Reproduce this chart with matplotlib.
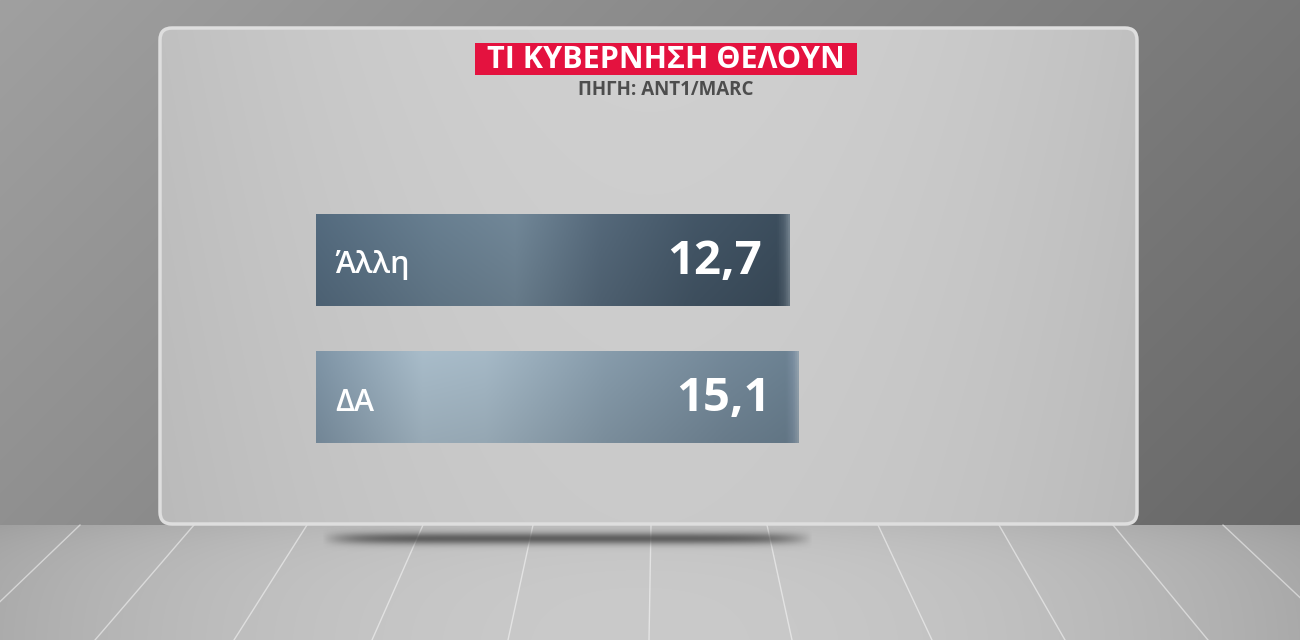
import numpy as np
import matplotlib
matplotlib.use('Agg')
import matplotlib.pyplot as plt
from matplotlib.patches import FancyBboxPatch, Rectangle
from matplotlib.colors import LinearSegmentedColormap

# ---------------- data ----------------
categories = ['Άλλη', 'ΔΑ']
values = [12.7, 15.1]
value_labels = ['12,7', '15,1']
title_text = 'ΤΙ ΚΥΒΕΡΝΗΣΗ ΘΕΛΟΥΝ'
subtitle_text = 'ΠΗΓΗ: ANT1/MARC'

# ---------------- style ----------------
FONT = ['Open Sans', 'Noto Sans', 'DejaVu Sans']
W, H = 1300, 640
BASE = -114.0          # value-axis origin of the bars
FLOOR_Y = 525
floor_lines = [(-10, -160), (80, -40), (194, 95), (307, 234), (423, 372), (533, 508),
               (651, 649), (767, 792), (878, 932), (999, 1065), (1113, 1208),
               (1223, 1345), (1320, 1480)]
bar_stops = [
    [(0.0, '#51677a'), (0.25, '#647a8b'), (0.42, '#6d8292'), (0.6, '#526576'),
     (0.8, '#415363'), (0.975, '#3a4b5a'), (0.99, '#4d5d6b'), (1.0, '#6d7c88')],
    [(0.0, '#7a8fa0'), (0.22, '#a2b5c2'), (0.35, '#9fb2bf'), (0.6, '#8296a5'),
     (0.85, '#6f8393'), (0.975, '#687d8d'), (0.99, '#75889a'), (1.0, '#8d9ca8')],
]

fig = plt.figure(figsize=(13, 6.4), dpi=100)

# ---------------- studio background ----------------
bg = fig.add_axes([0, 0, 1, 1])
bg.set_xlim(0, W)
bg.set_ylim(H, 0)
bg.axis('off')

yy, xx = np.mgrid[0:H, 0:W].astype(float)
wall = 160 - 40 * (xx / W) - 16 * (yy / FLOOR_Y)
floor = 202 - 36 * ((xx - 640) / 700) ** 2 - 12 * np.exp(-(yy - FLOOR_Y) / 25)
img = np.where(yy < FLOOR_Y, wall, floor)
img = np.clip(img, 0, 255) / 255.0
bg.imshow(np.dstack([img, img, img]), extent=(0, W, H, 0), aspect='auto',
          interpolation='bilinear', zorder=0)

for tx, bx in floor_lines:
    bg.plot([tx, bx], [FLOOR_Y, H], color='white', alpha=0.5, lw=1.0, zorder=1)

# panel shadow
sy, sx = np.mgrid[0:40, 0:600].astype(float)
sx_n = (sx - 300) / 300
sy_n = (sy - 20) / 6
alpha = np.exp(-sy_n ** 2) * np.clip((1 - np.abs(sx_n) ** 8), 0, 1) * 0.75
shadow = np.zeros((40, 600, 4))
shadow[..., 3] = alpha
shadow[..., :3] = 0.25
bg.imshow(shadow, extent=(322, 812, 558, 518), aspect='auto', zorder=1)

# glass panel
px0, py0, pw, ph = 160, 28, 977, 496
panel = FancyBboxPatch((px0, py0), pw, ph, boxstyle='round,pad=0,rounding_size=12',
                       facecolor='none', edgecolor='none', zorder=2)
bg.add_patch(panel)
py, pxx = np.mgrid[0:200, 0:400].astype(float)
pimg = 208 - 16 * ((pxx - 200) / 200) ** 2 - 6 * (py / 200)
pimg = np.clip(pimg, 0, 255) / 255.0
pim = bg.imshow(np.dstack([pimg, pimg, pimg]), extent=(px0, px0 + pw, py0 + ph, py0),
                aspect='auto', interpolation='bilinear', zorder=2)
pim.set_clip_path(panel)
bg.add_patch(FancyBboxPatch((px0, py0), pw, ph, boxstyle='round,pad=0,rounding_size=12',
                            facecolor='none', edgecolor='#dedede', lw=2.5, zorder=3))
bg.set_xlim(0, W)
bg.set_ylim(H, 0)

# title and source
bg.add_patch(Rectangle((475, 43), 382, 32, facecolor='#e4123f', edgecolor='none', zorder=4))
bg.text(666, 60, title_text, ha='center', va='center', color='white',
        fontsize=22, fontweight='bold', family=FONT, zorder=5)
bg.text(666, 90, subtitle_text, ha='center', va='center', color='#4d4d4d',
        fontsize=13.5, fontweight='bold', family=FONT, zorder=5)

# ---------------- bar chart ----------------
ax = fig.add_axes([316 / W, 1 - 460 / H, 818 / W, 260 / H])
ax.patch.set_alpha(0)
ax.axis('off')

ypos = np.arange(len(categories))
widths = [v - BASE for v in values]
bars = ax.barh(ypos, widths, left=BASE, height=0.669, facecolor='none',
               edgecolor='none', zorder=3)

for i, bar in enumerate(bars):
    x0, x1 = bar.get_x(), bar.get_x() + bar.get_width()
    yb, yt = bar.get_y(), bar.get_y() + bar.get_height()
    cmap = LinearSegmentedColormap.from_list(f'bar{i}', bar_stops[i])
    grad = np.linspace(0, 1, 512)
    rows = np.vstack([grad] * 20)
    rgba = cmap(rows)
    shade = np.linspace(1.04, 0.94, 20)[:, None, None]
    rgba[..., :3] = np.clip(rgba[..., :3] * shade, 0, 1)
    im = ax.imshow(rgba, extent=(x0, x1, yt, yb), aspect='auto',
                   interpolation='bilinear', zorder=2)
    im.set_clip_path(bar)
    ax.annotate(categories[i], xy=(BASE, i), xytext=(14, -9.5),
                textcoords='offset points', ha='left', va='baseline',
                color='white', fontsize=22, fontweight='semibold', family=FONT, zorder=4)
    ax.annotate(value_labels[i], xy=(values[i], i), xytext=(-20.5, -10),
                textcoords='offset points', ha='right', va='baseline',
                color='white', fontsize=34, fontweight='bold', family=FONT, zorder=4)

ax.set_xlim(BASE, BASE + 818 / 3.741)
ax.set_ylim(1.4545, -0.436)

fig.savefig('out.png', dpi=100)
